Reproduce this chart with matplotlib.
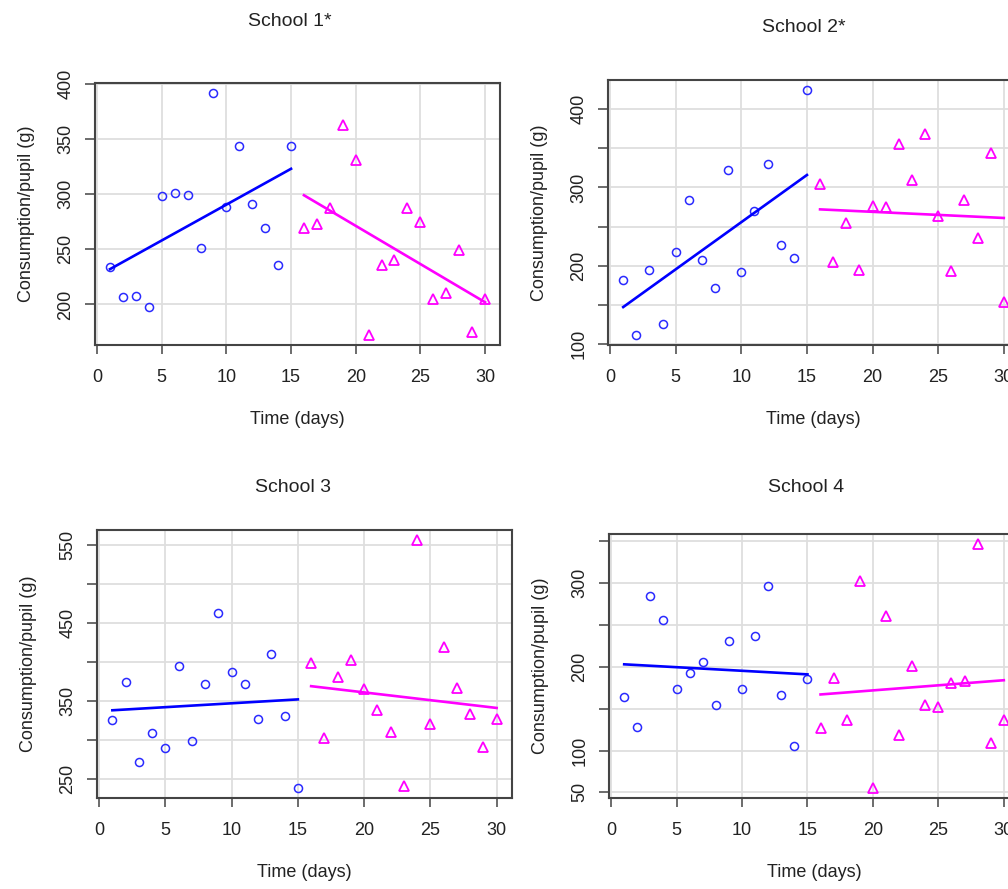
import matplotlib.pyplot as plt

plt.rcParams['font.family'] = ['Liberation Sans', 'DejaVu Sans']

days_before = list(range(1, 16))
days_after = list(range(16, 31))

# consumption per pupil (g)
school1_before = [234, 207, 208, 198, 298, 301, 299, 251, 392, 288, 344, 291, 269, 236, 344]
school1_after = [269, 273, 287, 363, 331, 172, 236, 240, 287, 275, 205, 210, 249, 175, 205]
school2_before = [181, 111, 194, 125, 217, 284, 207, 172, 323, 192, 270, 330, 227, 210, 425]
school2_after = [305, 205, 255, 194, 276, 275, 356, 309, 369, 264, 193, 284, 236, 344, 153]
school3_before = [325, 375, 272, 309, 290, 395, 298, 372, 463, 387, 372, 327, 410, 331, 238]
school3_after = [399, 303, 381, 403, 365, 339, 310, 241, 557, 321, 419, 367, 333, 291, 327]
school4_before = [164, 128, 285, 256, 174, 193, 206, 154, 231, 174, 237, 296, 166, 105, 185]
school4_after = [127, 187, 137, 303, 55, 261, 119, 201, 154, 152, 181, 183, 347, 109, 137]

# fitted trend lines: value at first and last day of each period
school1_fit = [[232, 323], [299, 202]]
school2_fit = [[147, 316], [272, 261]]
school3_fit = [[338, 352], [369, 341]]
school4_fit = [[203, 191], [167, 184]]

titles = ['School 1*', 'School 2*', 'School 3', 'School 4']
x_ticks = [0, 5, 10, 15, 20, 25, 30]
y_ticks = [
    [200, 250, 300, 350, 400],
    [100, 150, 200, 250, 300, 350, 400],
    [250, 300, 350, 400, 450, 500, 550],
    [50, 100, 150, 200, 250, 300, 350],
]
y_tick_labels = [
    ['200', '250', '300', '350', '400'],
    ['100', '', '200', '', '300', '', '400'],
    ['250', '', '350', '', '450', '', '550'],
    ['50', '100', '', '200', '', '300', ''],
]

before = [school1_before, school2_before, school3_before, school4_before]
after = [school1_after, school2_after, school3_after, school4_after]
fits = [school1_fit, school2_fit, school3_fit, school4_fit]

W, H = 1008, 889
fig = plt.figure(figsize=(W / 100, H / 100), dpi=100)

# axes boxes in pixels: left, top, right, bottom
boxes = [(95, 83, 500, 345), (608, 80, 1019, 345),
         (97, 530, 512, 798), (609, 534, 1019, 798)]
title_pos = [(290, 22), (804, 27), (293, 487), (806, 487)]

frame = '#444444'
for i in range(4):
    l, t, r, b = boxes[i]
    ax = fig.add_axes([l / W, 1 - b / H, (r - l) / W, (b - t) / H])
    ax.plot(days_before, before[i], 'o', ms=5.8, mfc='none', mec='#2a2aff', mew=1.1)
    ax.plot(days_after, after[i], '^', ms=7.5, mfc='none', mec='#ff00ff', mew=1.3)
    ax.plot([days_before[0], days_before[-1]], fits[i][0], color='blue', lw=1.9)
    ax.plot([days_after[0], days_after[-1]], fits[i][1], color='#ff00ff', lw=1.9)
    ax.margins(x=0.04, y=0.04)
    ax.set_xticks(x_ticks)
    ax.set_yticks(y_ticks[i])
    ax.set_yticklabels(y_tick_labels[i], rotation=90, va='center')
    ax.grid(True, color='#dedede', lw=1.3)
    ax.set_axisbelow(True)
    for s in ax.spines.values():
        s.set_color(frame)
        s.set_linewidth(1.5)
    ax.tick_params(axis='x', length=6.5, width=1.1, color=frame, pad=11,
                   labelsize=13, labelcolor='#222222')
    ax.tick_params(axis='y', length=7, width=1.1, color=frame, pad=8,
                   labelsize=13, labelcolor='#222222')
    ax.set_xlabel('Time (days)', fontsize=13, color='#222222', labelpad=18)
    ax.set_ylabel('Consumption/pupil (g)', fontsize=13, color='#222222', labelpad=16)
    fig.text(title_pos[i][0] / W, 1 - title_pos[i][1] / H, titles[i],
             ha='center', va='center', fontsize=14, color='#222222')

fig.savefig('out.png', dpi=100)
